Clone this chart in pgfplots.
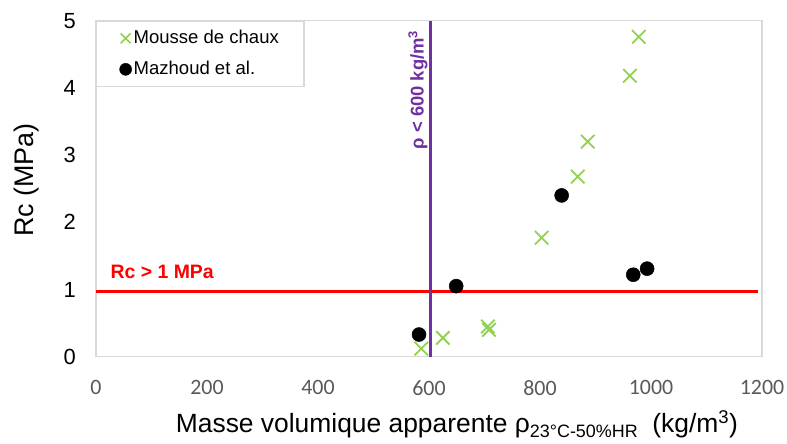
\documentclass[border=0pt]{standalone}
\usepackage{fontspec}
\setmainfont{Liberation Sans}
\newfontfamily\carlito{Carlito}
\usepackage{pgfplots}
\pgfplotsset{compat=1.18}
\definecolor{xgreen}{RGB}{146,208,80}
\definecolor{xpurple}{RGB}{112,48,160}
\definecolor{framec}{RGB}{217,217,217}
\definecolor{ticklab}{RGB}{89,89,89}
\begin{document}
\begin{tikzpicture}
\useasboundingbox (0,0) rectangle (787bp,444bp);
\begin{axis}[
  at={(96bp,87.3bp)}, anchor=south west,
  scale only axis, width=666bp, height=336bp,
  xmin=0, xmax=1200, ymin=0, ymax=5,
  xtick={0,200,...,1200}, ytick={0,1,2,3,4,5},
  major tick length=0pt,
  axis line style={draw=framec, line width=1.3bp},
  /pgf/number format/assume math mode=true,
  /pgf/number format/1000 sep={},
  x tick label style={font=\carlito\fontsize{22}{22}\selectfont, text=ticklab, anchor=center, yshift=-31bp},
  y tick label style={font=\fontsize{22}{22}\selectfont, anchor=east, inner sep=0pt, xshift=-20bp},
  xlabel={Masse volumique apparente ρ\raisebox{-5bp}{\fontsize{18}{18}\selectfont 23°C-50\%HR}\ \ (kg/m\textsuperscript{3})},
  xlabel style={font=\fontsize{26.5}{26.5}\selectfont, at={(axis description cs:0.542,-0.202)}, anchor=center},
  ylabel={Rc (MPa)},
  ylabel style={font=\fontsize{27}{27}\selectfont, at={(axis description cs:-0.105,0.526)}, anchor=center},
  legend style={at={(0,1)}, anchor=north west, draw=framec, line width=1.3bp, fill=white,
    font=\fontsize{18.6}{20}\selectfont, inner xsep=23bp, inner ysep=6bp, row sep=9bp,
    nodes={inner sep=2bp, text height=14bp, text depth=4bp}, cells={anchor=west}},
  legend image code/.code={\draw[#1] plot coordinates {(0bp,0bp)};},
]
\addplot[only marks, mark=x, mark size=9.5bp, xgreen, line width=1.8bp,
  legend image post style={mark size=7bp, line width=1.5bp}] coordinates {
  (586,0.12) (625,0.28) (706,0.45) (708,0.40) (803,1.77) (868,2.68) (886,3.20) (962,4.18) (978,4.76)};
\addlegendentry{Mousse de chaux}
\addplot[only marks, mark=*, mark size=7bp, black, line width=0.5bp,
  legend image post style={mark size=6bp}] coordinates {
  (582,0.33) (649,1.05) (839,2.40) (968,1.22) (993,1.31)};
\addlegendentry{Mazhoud et al.}
\addplot[red, line width=2.5bp, forget plot] coordinates {(0,0.97) (1192,0.97)};
\addplot[xpurple, line width=2.5bp, forget plot] coordinates {(603,0) (603,5)};
\node[anchor=west, text=red, font=\bfseries\fontsize{19.5}{20}\selectfont] at (axis cs:20,1.26) {Rc > 1 MPa};
\node[rotate=90, text=xpurple, font=\bfseries\fontsize{18.5}{19}\selectfont] at (axis cs:580,3.97) {ρ < 600 kg/m\textsuperscript{3}};
\end{axis}
\end{tikzpicture}
\end{document}
